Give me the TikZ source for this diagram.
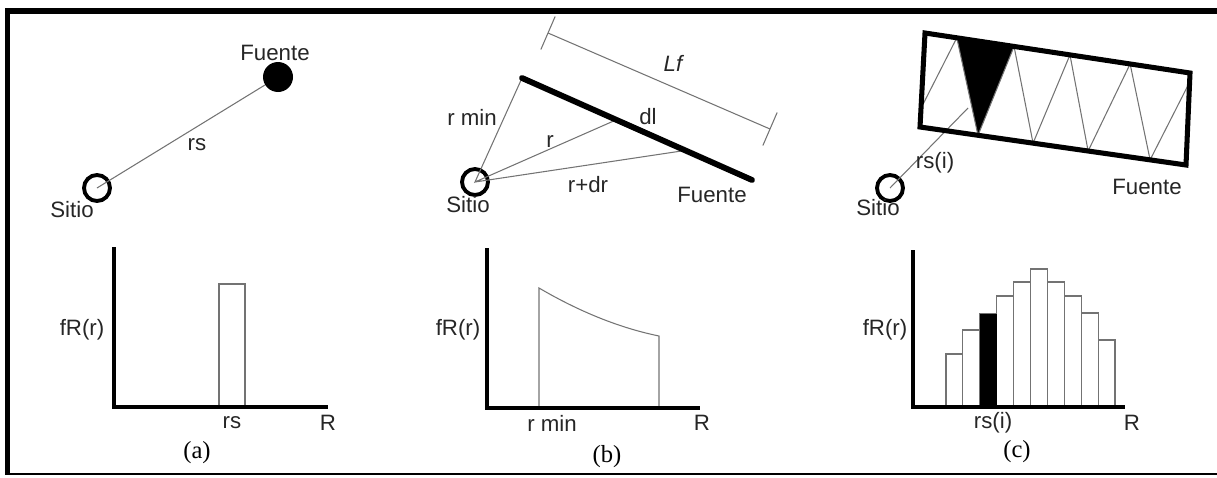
\documentclass[tikz,border=0pt]{standalone}
\usepackage{fontspec}
\setmainfont{Liberation Serif}
\setsansfont{Liberation Sans}
\usetikzlibrary{calc}
\tikzset{
  thinline/.style={black!55,line width=0.9pt},
  axis/.style={line width=3.6pt},
  site/.style={circle,draw,line width=3.3pt,inner sep=0pt,minimum size=0.78cm},
  lab/.style={text=black!85},
  panellab/.style={font=\rmfamily\fontsize{21}{24}\selectfont}
}
\begin{document}
\begin{tikzpicture}[x=0.03cm,y=-0.03cm,font=\sffamily\fontsize{19}{22}\selectfont]
\useasboundingbox (0,0) rectangle (1217,477);
% frame
\draw[line width=5pt] (7.5,474) |- (1217,11);
\draw[line width=1.6pt] (5,474) -- (1217,474);
% (a) point source
\node[site] (sa) at (97,188) {};
\node[circle,fill,inner sep=0pt,minimum size=0.9cm] (fa) at (278,77) {};
\draw[thinline] (sa.center) -- (fa);
\node[lab] (fuentea) at (275,53) {Fuente};
\node[lab] (rsa) at (197,145) {rs};
\node[lab] (sitioa) at (72,210) {Sitio};
\draw[thinline] (219,407) |- (245,284) -- (245,407);
\draw[axis] (114,247) |- (328,407);
\node[lab] (fra) at (82,330) {fR(r)};
\node[lab] at (232,423) {rs};
\node[lab] at (328,423) {R};
\node[panellab] at (197,453) {(a)};
% (b) line source
\coordinate (b1) at (522,78);
\coordinate (b2) at (752,180);
\coordinate (pr) at ($(b1)!0.41!(b2)$);
\coordinate (pdr) at ($(b1)!0.71!(b2)$);
\node[site] (sb) at (475,182) {};
\draw[thinline] (b1) -- (sb.center) -- (pr) (sb.center) -- (pdr);
\draw[line width=5pt,line cap=round] (b1) -- (b2);
\coordinate (la) at (548,33);
\coordinate (lb) at (770,129);
\draw[thinline] (la) -- (lb);
\draw[thinline] ($(la)!0.54cm!90:(lb)$) -- ($(la)!0.54cm!-90:(lb)$);
\draw[thinline] ($(lb)!0.54cm!90:(la)$) -- ($(lb)!0.54cm!-90:(la)$);
\node[lab,font=\sffamily\itshape\fontsize{19}{22}\selectfont] (lf) at (673,63) {Lf};
\node[lab] (rmin) at (472,117) {r min};
\node[lab] (rb) at (550,142) {r};
\node[lab] (dl) at (648,117) {dl};
\node[lab] (rdr) at (588,185) {r+dr};
\node[lab] (fuenteb) at (712,195) {Fuente};
\node[lab] (sitiob) at (468,205) {Sitio};
\draw[thinline] (539,408) -- (539,288) .. controls (580,312) and (620,328) .. (659,336) -- (659,408);
\draw[axis] (487,248) |- (700,408);
\node[lab] (frb) at (458,330) {fR(r)};
\node[lab] at (552,423) {r min};
\node[lab] at (702,423) {R};
\node[panellab] at (607,457) {(b)};
% (c) area source
\coordinate (tl) at (925,33);
\coordinate (tr) at (1190,73);
\coordinate (br) at (1186,165);
\coordinate (bl) at (920,127);
\fill ($(tl)!0.12!(tr)$) -- ($(tl)!0.336!(tr)$) -- ($(bl)!0.218!(br)$) -- cycle;
\draw[thinline] ($(tl)!0.8!(bl)$)
  \foreach \t/\b in {0.12/0.218,0.336/0.425,0.547/0.632,0.774/0.865} {
    -- ($(tl)!\t!(tr)$) -- ($(bl)!\b!(br)$)}
  -- ($(tr)!0.1!(br)$);
\node[site] (sc) at (890,188) {};
\coordinate (pc) at (968,108);
\draw[thinline] (sc.center) -- (pc);
\draw[line width=4.3pt] (tl) -- (tr) -- (br) -- (bl) -- cycle;
\node[lab] (rsi) at (935,163) {rs(i)};
\node[lab] (fuentec) at (1147,187) {Fuente};
\node[lab] (sitioc) at (878,208) {Sitio};
\foreach \i/\h in {0/354,1/330,2/314,3/296,4/282,5/269,6/282,7/296,8/313,9/340}
  \draw[thinline] (946+16.9*\i,407) rectangle ++(16.9,\h-407);
\fill (979.8,407) rectangle (996.7,314);
\draw[axis] (913,250) |- (1125,407);
\node[lab] (frc) at (885,330) {fR(r)};
\node[lab] at (993,423) {rs(i)};
\node[lab] at (1132,423) {R};
\node[panellab] at (1017,452) {(c)};
\end{tikzpicture}
\end{document}
